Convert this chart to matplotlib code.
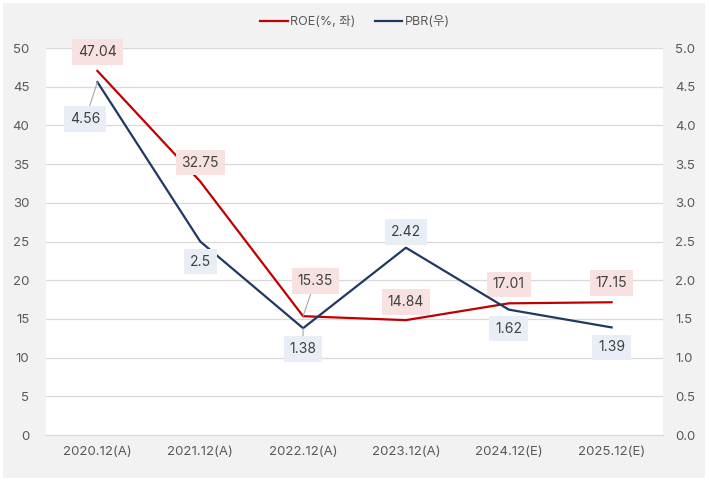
import matplotlib
matplotlib.use("Agg")
import matplotlib.pyplot as plt
from matplotlib.patches import Rectangle

plt.rcParams["font.family"] = ["Inter", "Noto Sans CJK KR", "DejaVu Sans"]

# data
periods = ["2020.12(A)", "2021.12(A)", "2022.12(A)", "2023.12(A)", "2024.12(E)", "2025.12(E)"]
roe = [47.04, 32.75, 15.35, 14.84, 17.01, 17.15]
pbr = [4.56, 2.5, 1.38, 2.42, 1.62, 1.39]

# label offsets in pixels (dx, dy) and whether to draw a leader line
roe_off = [(0, 19), (0, 19), (12, 35), (0, 18), (0, 19), (0, 19)]
roe_lead = [False, False, True, False, False, False]
pbr_off = [(-12, -37), (0, -20), (0, -21), (0, 16), (0, -19), (0, -20)]
pbr_lead = [True, False, True, False, False, False]

RED = "#c00000"
NAVY = "#1f3864"
TXT = "#595959"
GRID = "#d9d9d9"

fig = plt.figure(figsize=(7.11, 4.84), dpi=100)
fig.patches.append(Rectangle((3 / 711, 6 / 484), 702 / 711, 475 / 484,
                             transform=fig.transFigure, facecolor="#f2f2f2",
                             edgecolor="none", zorder=-10))
ax = fig.add_axes([46 / 711, 49 / 484, 617 / 711, 387 / 484])
ax.set_facecolor("white")
ax2 = ax.twinx()

x = list(range(len(periods)))
l1, = ax.plot(x, roe, color=RED, lw=1.6, label="ROE(%, 좌)", zorder=3)
l2, = ax2.plot(x, pbr, color=NAVY, lw=1.6, label="PBR(우)", zorder=3)

ax.set_xlim(-0.5, len(periods) - 0.5)
ax.set_ylim(0, 50)
ax2.set_ylim(0, 5)
ax.set_yticks(range(0, 51, 5))
ax2.set_yticks([i * 0.5 for i in range(11)])
ax2.set_yticklabels([f"{i * 0.5:.1f}" for i in range(11)])
ax.set_xticks(x)
ax.set_xticklabels(periods)

ax.grid(axis="y", color=GRID, lw=0.9)
ax.set_axisbelow(True)
for a in (ax, ax2):
    for s in a.spines.values():
        s.set_visible(False)
    a.tick_params(length=0, labelsize=9.5, labelcolor=TXT)
ax.tick_params(axis="x", pad=8)
ax.tick_params(axis="y", pad=12)
ax2.tick_params(axis="y", pad=9)
ax.spines["bottom"].set_visible(True)
ax.spines["bottom"].set_color(GRID)

def label(axis, xs, ys, offs, leads, fmt, box):
    for xi, yi, (dx, dy), lead in zip(xs, ys, offs, leads):
        props = None
        if lead:
            props = dict(arrowstyle="-", color="#a6a6a6", lw=0.8, shrinkA=0, shrinkB=0)
        axis.annotate(fmt(yi), (xi, yi), xytext=(dx, dy), textcoords="offset pixels",
                      ha="center", va="center", fontsize=10, color="#404040",
                      bbox=dict(boxstyle="square,pad=0.42", fc=box, ec="none"),
                      arrowprops=props, zorder=5)

label(ax, x, roe, roe_off, roe_lead, lambda v: f"{v:g}", "#f8e1e1")
label(ax2, x, pbr, pbr_off, pbr_lead, lambda v: f"{v:g}", "#e9edf6")

fig.legend(handles=[l1, l2], loc="center", bbox_to_anchor=(355 / 711, 1 - 22 / 484),
           ncol=2, frameon=False, fontsize=9, labelcolor=TXT, handlelength=2.2,
           handletextpad=0.2, columnspacing=1.5)

fig.savefig("out.png", dpi=100)
